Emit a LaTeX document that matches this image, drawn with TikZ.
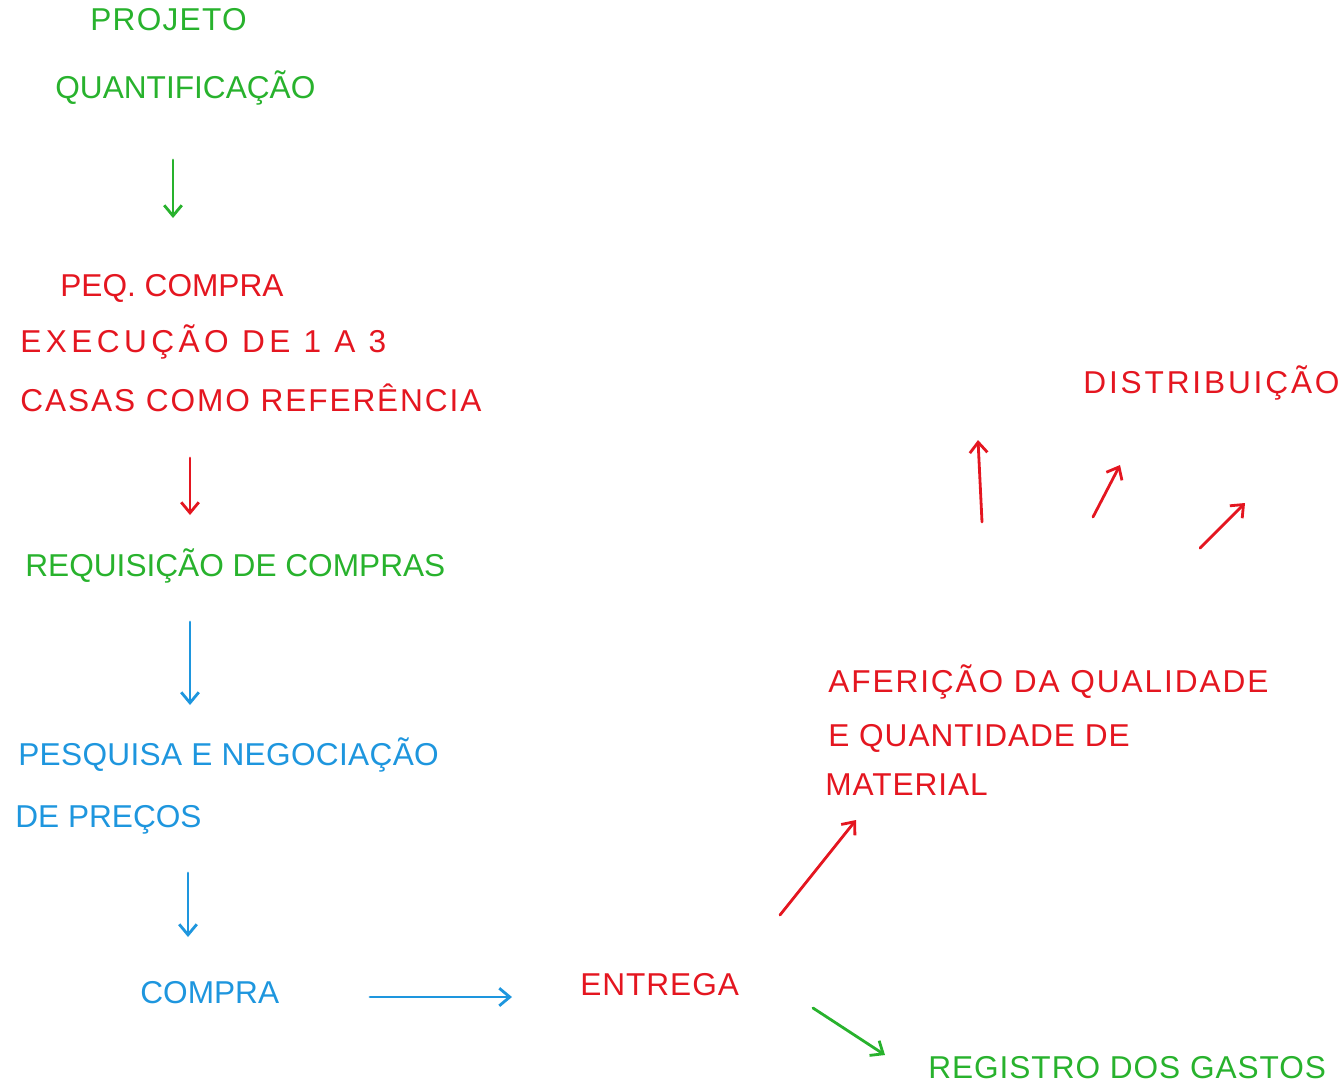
\documentclass[tikz,border=0pt]{standalone}
\usepackage{fontspec}
\setmainfont{Liberation Sans}
\usetikzlibrary{arrows.meta}
\definecolor{caneta verde}{RGB}{40,178,45}
\definecolor{caneta verm}{RGB}{228,22,32}
\definecolor{caneta azul}{RGB}{30,150,222}
\tikzset{
  txt/.style={anchor=west,inner sep=0pt,font=\fontsize{18}{20}\selectfont},
  esp/.style={font=\fontsize{18}{20}\selectfont\addfontfeature{LetterSpace=#1}},
  gr/.style={color=caneta verde},
  rd/.style={color=caneta verm},
  bl/.style={color=caneta azul},
  seta/.style={-{Straight Barb[length=6pt,width=10pt]},line width=1.6pt,line cap=round}
}
\begin{document}
\begin{tikzpicture}[x=0.02cm,y=-0.02cm]
      \useasboundingbox (0,0) rectangle (1341,1086);
      \path
        (90,20) node[txt,gr,esp=4] (projeto){PROJETO}
        (55,88) node[txt,gr] (quant){QUANTIFICAÇÃO}
        (60,288) node[txt,rd] (peq){PEQ. COMPRA}
        (20,342) node[txt,rd,esp=14] (exec){EXECUÇÃO DE 1 A 3}
        (20,398) node[txt,rd,esp=6] (casas){CASAS COMO REFERÊNCIA}
        (25,566) node[txt,gr] (requis){REQUISIÇÃO DE COMPRAS}
        (18,755) node[txt,bl,esp=1] (pesq){PESQUISA E NEGOCIAÇÃO}
        (15,820) node[txt,bl] (precos){DE PREÇOS}
        (140,993) node[txt,bl] (compra){COMPRA}
        (580,985) node[txt,rd,esp=3] (entrega){ENTREGA}
        (828,682) node[txt,rd,esp=6] (aferic){AFERIÇÃO DA QUALIDADE}
        (828,738) node[txt,rd,esp=3] (quantid){E QUANTIDADE DE}
        (825,785) node[txt,rd,esp=3] (material){MATERIAL}
        (1083,383) node[txt,rd,esp=9] (distrib){DISTRIBUIÇÃO}
        (928,1068) node[txt,gr,esp=3] (registro){REGISTRO DOS GASTOS};
      % pontas das setas
      \coordinate (q1) at (173,160);   \coordinate (q2) at (173,218);
      \coordinate (c1) at (190,458);   \coordinate (c2) at (190,515);
      \coordinate (r1) at (190,622);   \coordinate (r2) at (190,705);
      \coordinate (p1) at (188,873);   \coordinate (p2) at (188,937);
      \coordinate (k1) at (370,997);   \coordinate (k2) at (512,997);
      \coordinate (e1) at (780,915);   \coordinate (e2) at (856,820);
      \coordinate (g1) at (813,1008);  \coordinate (g2) at (885,1055);
      \coordinate (d1) at (982,522);   \coordinate (d2) at (978,440);
      \coordinate (d3) at (1093,517);  \coordinate (d4) at (1120,465);
      \coordinate (d5) at (1200,548);  \coordinate (d6) at (1245,503);
      \begin{scope}[seta]
        \draw[gr] (q1) to (q2);
        \draw[rd] (c1) to (c2);
        \draw[bl] (r1) to (r2);
        \draw[bl] (p1) to (p2);
        \draw[bl] (k1) to (k2);
        \draw[rd] (e1) to (e2);
        \draw[gr] (g1) to (g2);
        \draw[rd] (d1) to (d2);
        \draw[rd] (d3) to (d4);
        \draw[rd] (d5) to (d6);
      \end{scope}
    \end{tikzpicture}
\end{document}
